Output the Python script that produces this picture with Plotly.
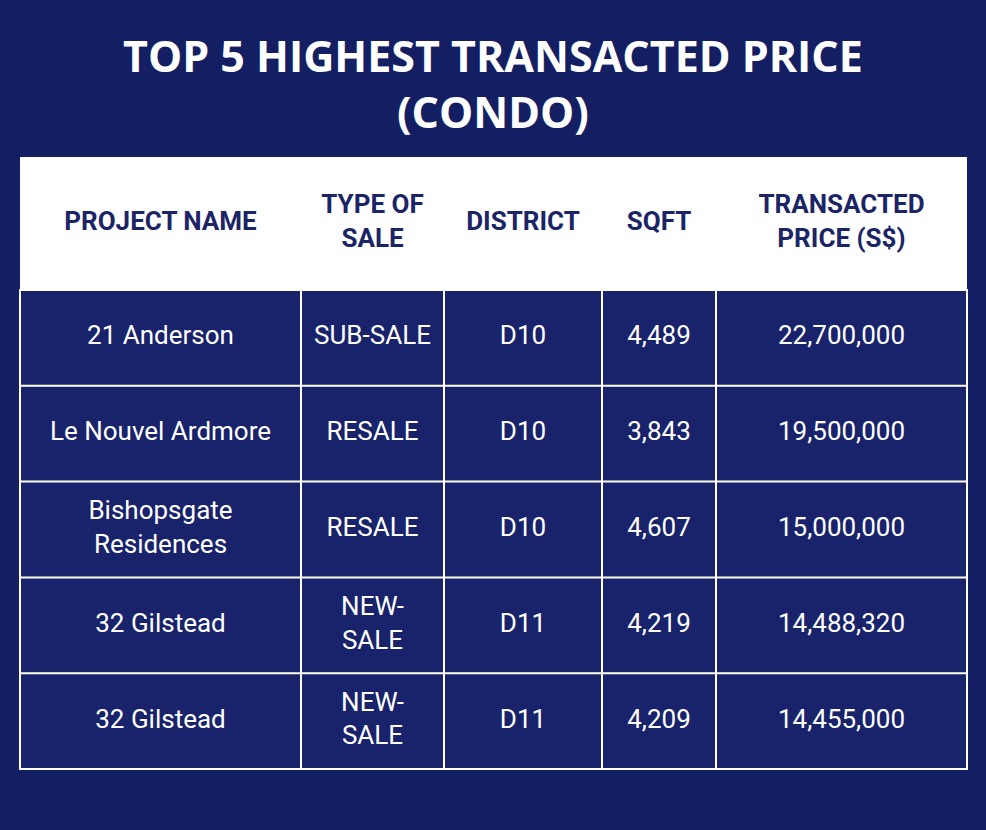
import plotly.graph_objects as go

# Table data
headers = ["PROJECT NAME", "TYPE OF<br>SALE", "DISTRICT", "SQFT", "TRANSACTED<br>PRICE (S$)"]
projects = ["21 Anderson", "Le Nouvel Ardmore", "Bishopsgate<br>Residences", "32 Gilstead", "32 Gilstead"]
sale_types = ["SUB-SALE", "RESALE", "RESALE", "NEW-<br>SALE", "NEW-<br>SALE"]
districts = ["D10", "D10", "D10", "D11", "D11"]
sqft = ["4,489", "3,843", "4,607", "4,219", "4,209"]
prices = ["22,700,000", "19,500,000", "15,000,000", "14,488,320", "14,455,000"]
columns = [projects, sale_types, districts, sqft, prices]

bg = "#141f63"
cell_bg = "#18236b"
text_navy = "#1b2466"

# layout geometry (pixel space)
col_edges = [20, 301, 444, 602, 716, 967]
header_top, header_bottom = 157, 290
row_h = 95.8
n_rows = len(projects)
row_edges = [header_bottom + i * row_h for i in range(n_rows + 1)]

fig = go.Figure()
shapes = [
    dict(type="rect", x0=col_edges[0], x1=col_edges[-1], y0=header_top, y1=header_bottom,
         fillcolor="white", line=dict(width=0), layer="below"),
    dict(type="rect", x0=col_edges[0], x1=col_edges[-1], y0=header_bottom, y1=row_edges[-1],
         fillcolor=cell_bg, line=dict(color="white", width=2), layer="below"),
]
for x in col_edges[1:-1]:
    shapes.append(dict(type="line", x0=x, x1=x, y0=header_bottom, y1=row_edges[-1],
                       line=dict(color="white", width=2)))
for y in row_edges[1:-1]:
    shapes.append(dict(type="line", x0=col_edges[0], x1=col_edges[-1], y0=y, y1=y,
                       line=dict(color="white", width=2)))

centers = [(a + b) / 2 for a, b in zip(col_edges[:-1], col_edges[1:])]
row_centers = [(a + b) / 2 for a, b in zip(row_edges[:-1], row_edges[1:])]

def spaced(s):
    # wider line spacing for two-line cells
    return s.replace("<br>", "<br><span style='font-size:8px'> </span><br>") if False else s

fig.add_trace(go.Scatter(
    x=centers, y=[(header_top + header_bottom) / 2] * len(headers),
    text=["<b>%s</b>" % h for h in headers], mode="text",
    textfont=dict(family="Roboto", size=26, color=text_navy), hoverinfo="skip"))

for cx, col in zip(centers, columns):
    fig.add_trace(go.Scatter(
        x=[cx] * n_rows, y=row_centers, text=col, mode="text",
        textfont=dict(family="Roboto", size=26, color="white"), hoverinfo="skip"))

fig.update_layout(
    width=986, height=830, showlegend=False,
    paper_bgcolor=bg, plot_bgcolor=bg,
    margin=dict(l=0, r=0, t=0, b=0),
    shapes=shapes,
    xaxis=dict(range=[0, 986], visible=False, fixedrange=True),
    yaxis=dict(range=[830, 0], visible=False, fixedrange=True),
    annotations=[dict(text="<b>TOP 5 HIGHEST TRANSACTED PRICE<br>(CONDO)</b>",
                      x=493, y=83, xref="x", yref="y", showarrow=False,
                      font=dict(family="Open Sans", size=43, color="white"))],
)

fig.write_html("out.html", config={"displayModeBar": False},
               post_script="document.body.style.margin='0';")
